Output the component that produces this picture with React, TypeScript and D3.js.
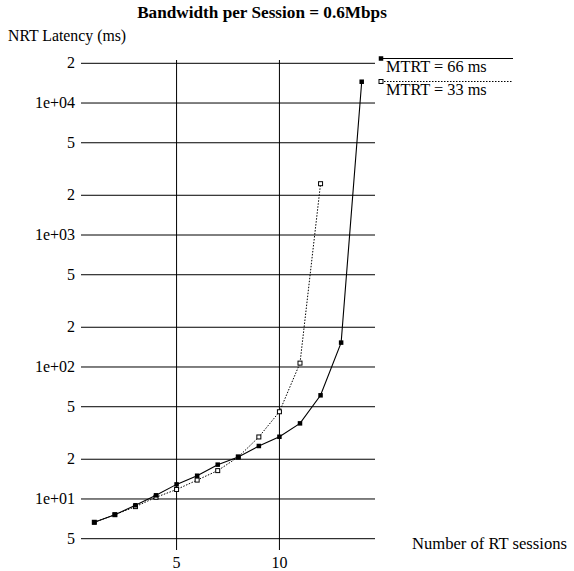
import React from "react";
import * as d3 from "d3";

const sessions = [1, 2, 3, 4, 5, 6, 7, 8, 9, 10, 11, 12, 13, 14];
const latency66 = [6.66, 7.6, 8.96, 10.66, 12.9, 15.0, 18.2, 20.8, 25.2, 29.6, 37.4, 61, 153, 14500];
const sessions33 = [1, 2, 3, 4, 5, 6, 7, 8, 9, 10, 11, 12];
const latency33 = [6.66, 7.6, 8.75, 10.3, 11.8, 13.9, 16.4, 20.8, 29.5, 45.8, 107, 2448];
const yTicks = [5, 10, 20, 50, 100, 200, 500, 1000, 2000, 5000, 10000, 20000];
const yTickLabels = ["5", "1e+01", "2", "5", "1e+02", "2", "5", "1e+03", "2", "5", "1e+04", "2"];
const xTicks = [5, 10];
const legendLabels = ["MTRT = 66 ms", "MTRT = 33 ms"];

const FONT = "'Liberation Serif', 'Times New Roman', serif";

export default function App() {
  const W = 574, H = 571;
  const x = d3.scaleLinear().domain([1, 14]).range([94.3, 361.7]);
  const y = d3.scaleLog().domain([5, 20000]).range([538.7, 63.3]);
  const gridLeft = 81, gridRight = 375;
  const vTop = 60, vBottom = 550;

  const line = d3.line<[number, number]>().x((d) => x(d[0])).y((d) => y(d[1]));
  const pts66: [number, number][] = sessions.map((s, i) => [s, latency66[i]]);
  const pts33: [number, number][] = sessions33.map((s, i) => [s, latency33[i]]);

  const ms = 4.5;
  return (
    <svg width={W} height={H} style={{ position: "absolute", left: 0, top: 0, background: "#fff" }}>
      <rect width={W} height={H} fill="#fff" />
      <text x={262} y={18} textAnchor="middle" fontFamily={FONT} fontWeight="bold" fontSize={17.2}>
        Bandwidth per Session = 0.6Mbps
      </text>
      <text x={8} y={41} fontFamily={FONT} fontSize={15.8}>NRT Latency (ms)</text>

      {yTicks.map((t, i) => (
        <g key={"y" + i}>
          <line x1={gridLeft} x2={gridRight} y1={y(t)} y2={y(t)} stroke="#000" strokeWidth={1} />
          <text x={75} y={y(t) + 5} textAnchor="end" fontFamily={FONT} fontSize={16}>
            {yTickLabels[i]}
          </text>
        </g>
      ))}
      {xTicks.map((t, i) => (
        <g key={"x" + i}>
          <line x1={x(t)} x2={x(t)} y1={vTop} y2={vBottom} stroke="#000" strokeWidth={1} />
          <text x={x(t)} y={568} textAnchor="middle" fontFamily={FONT} fontSize={16}>
            {t}
          </text>
        </g>
      ))}
      <text x={412} y={549} fontFamily={FONT} fontSize={16.6}>Number of RT sessions</text>

      <path d={line(pts33) || ""} fill="none" stroke="#000" strokeWidth={1} strokeDasharray="1.5,1.5" />
      <path d={line(pts66) || ""} fill="none" stroke="#000" strokeWidth={1.1} />
      {pts33.map((p, i) => (
        <rect key={"o" + i} x={x(p[0]) - 2} y={y(p[1]) - 2} width={4} height={4} fill="#fff" stroke="#000" strokeWidth={1} />
      ))}
      {pts66.map((p, i) => (
        <rect key={"f" + i} x={x(p[0]) - ms / 2} y={y(p[1]) - ms / 2} width={ms} height={ms} fill="#000" />
      ))}

      {/* legend */}
      <line x1={381} x2={513} y1={58.5} y2={58.5} stroke="#000" strokeWidth={1.1} />
      <rect x={381 - ms / 2} y={58.5 - ms / 2} width={ms} height={ms} fill="#000" />
      <text x={386} y={72} fontFamily={FONT} fontSize={16.3}>{legendLabels[0]}</text>
      <line x1={381} x2={513} y1={81.5} y2={81.5} stroke="#000" strokeWidth={1} strokeDasharray="1.5,1.5" />
      <rect x={379} y={79.5} width={4} height={4} fill="#fff" stroke="#000" strokeWidth={1} />
      <text x={386} y={95} fontFamily={FONT} fontSize={16.3}>{legendLabels[1]}</text>
    </svg>
  );
}
